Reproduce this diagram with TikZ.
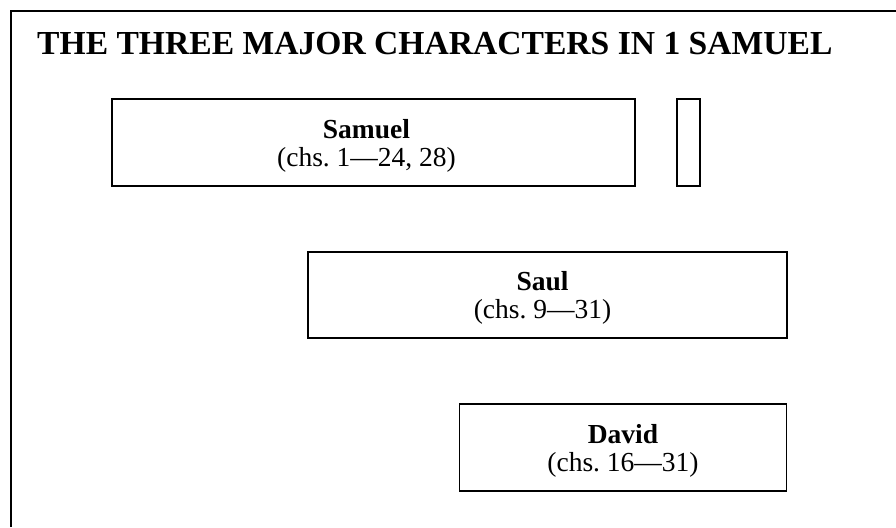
\documentclass[tikz,border=0pt]{standalone}
\usepackage{fontspec}
\setmainfont{Liberation Serif}
\usepackage{tikz}
\usetikzlibrary{positioning}

\begin{document}
\begin{tikzpicture}[x=1pt, y=-1pt,
    charbox/.style={draw, line width=1.6pt, inner sep=0pt},
    chartext/.style={align=center, inner sep=0pt, font=\fontsize{27.5}{28}\selectfont}]
    \useasboundingbox (0, 0) rectangle (896, 527); % page size
    \draw[line width=2pt] (10.5, 527) -- (10.5, 11) -- (896, 11);
    \node[anchor=base west, inner sep=0pt, font=\fontsize{33.6}{40}\selectfont\bfseries] (title) at (37, 55) {THE THREE MAJOR CHARACTERS IN 1 SAMUEL};
    % the three boxes
    \node[charbox, minimum width=523, minimum height=87] (samuel) at (373.5, 142.5) {};
    \node[charbox, minimum width=23, minimum height=87] (gap) at (688.5, 142.5) {};
    \node[charbox, minimum width=479, minimum height=86] (saul) at (547.5, 295) {};
    \node[charbox, minimum width=327, minimum height=87] (david) at (623, 447.5) {};
    \node[chartext] (samueltext) at ([xshift=-7, yshift=-3]samuel.center) {\textbf{Samuel}\\(chs.\ 1---24, 28)};
    \node[chartext] (saultext) at ([xshift=-5, yshift=-3]saul.center) {\textbf{Saul}\\(chs.\ 9---31)};
    \node[chartext] (davidtext) at ([xshift=0, yshift=-3]david.center) {\textbf{David}\\(chs.\ 16---31)};
\end{tikzpicture}
\end{document}
